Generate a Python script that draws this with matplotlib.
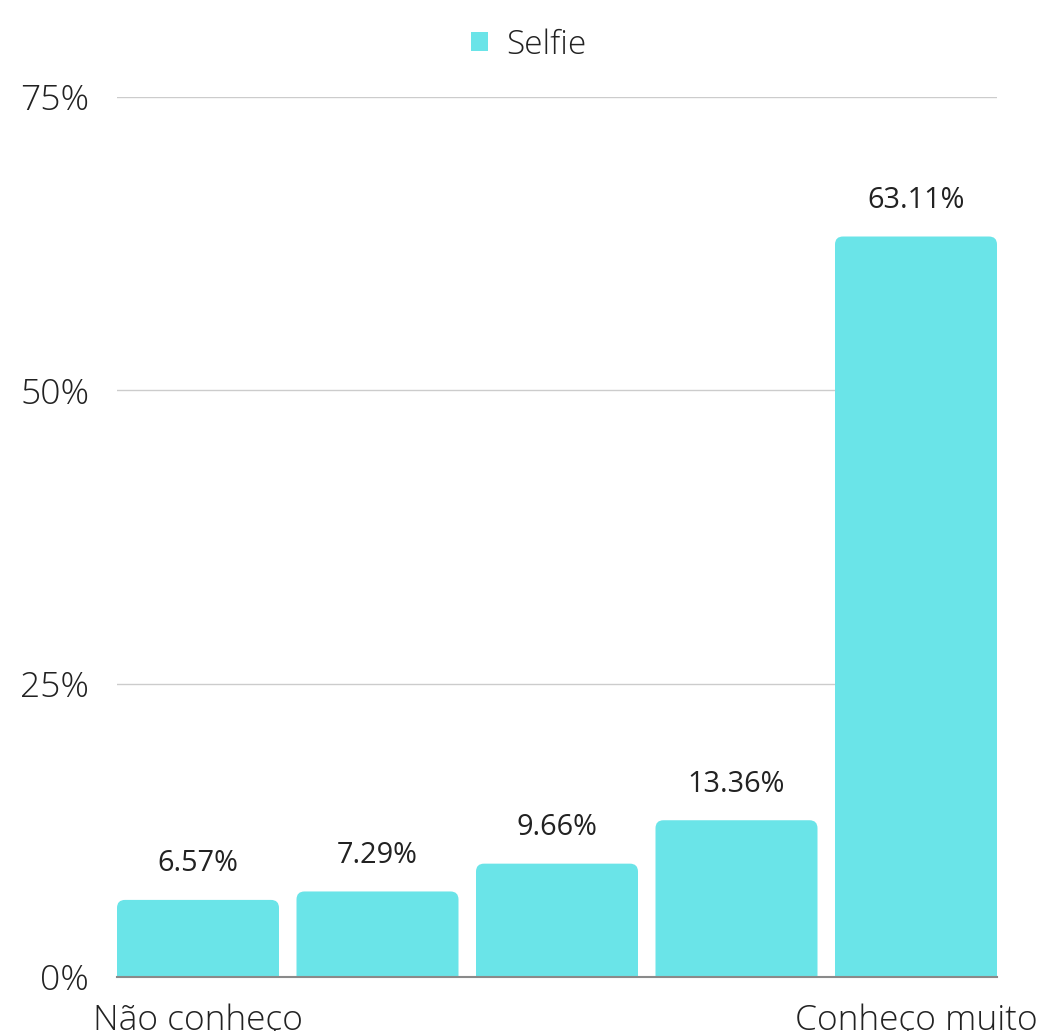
import matplotlib
matplotlib.use("Agg")
import matplotlib.pyplot as plt
from matplotlib.patches import FancyBboxPatch, Patch

plt.rcParams['font.family'] = ['Open Sans', 'DejaVu Sans']

# survey answers on a 1-5 scale, only the ends are named
categories = ["Não conheço", "", "", "", "Conheço muito"]
selfie = [6.57, 7.29, 9.66, 13.36, 63.11]
yticks = [0, 25, 50, 75]

BAR_COLOR = "#6ae4e8"
TEXT_COLOR = "#222222"

W, H, DPI = 10.51, 10.31, 100
fig = plt.figure(figsize=(W, H), dpi=DPI)
left, right, bottom, top = 117, 997, 1031 - 977, 1031 - 97
ax = fig.add_axes([left / 1051, bottom / 1031, (right - left) / 1051, (top - bottom) / 1031])

width = 0.9025
xs = list(range(len(selfie)))
ax.set_xlim(-width / 2, xs[-1] + width / 2)
ax.set_ylim(0, 75)

# px per data unit, used to keep the corner radius round
px_x = (right - left) / (ax.get_xlim()[1] - ax.get_xlim()[0])
px_y = (top - bottom) / 75
radius_px = 8
rx = radius_px / px_x
aspect = px_x / px_y

for x, v in zip(xs, selfie):
    # extend below zero so only the top corners show rounded
    box = FancyBboxPatch((x - width / 2, -radius_px / px_y * 2), width, v + radius_px / px_y * 2,
                         boxstyle=f"round,pad=0,rounding_size={rx}",
                         mutation_aspect=aspect, facecolor=BAR_COLOR,
                         edgecolor="none", zorder=2)
    ax.add_patch(box)
    ax.annotate(f"{v:.2f}%", (x, v), xytext=(0, 15.5), textcoords="offset points",
                ha="center", va="bottom", fontsize=20.8, color=TEXT_COLOR)

ax.set_yticks(yticks)
ax.set_yticklabels([f"{t}%" for t in yticks], fontweight="light")
ax.set_xticks(xs)
ax.set_xticklabels(categories, fontweight="light")
ax.tick_params(axis="y", length=0, pad=20, labelsize=25.5, labelcolor=TEXT_COLOR)
ax.tick_params(axis="x", length=0, pad=19, labelsize=25.5, labelcolor=TEXT_COLOR)

for t in yticks[1:]:
    ax.axhline(t, color="#cccccc", linewidth=1, zorder=1)
for s in ["top", "right", "left"]:
    ax.spines[s].set_visible(False)
ax.spines["bottom"].set_color("#8a8a8a")
ax.spines["bottom"].set_linewidth(1.5)
ax.spines["bottom"].set_zorder(3)

handle = Patch(facecolor=BAR_COLOR, edgecolor="none")
leg = fig.legend([handle], ["Selfie"], loc="center", bbox_to_anchor=(529 / 1051, 1 - 45 / 1031),
                 frameon=False, fontsize=24, handlelength=0.5, handleheight=0.5,
                 handletextpad=0.55, labelcolor=TEXT_COLOR)
for t in leg.get_texts():
    t.set_fontweight("light")

fig.savefig("out.png", dpi=DPI)
